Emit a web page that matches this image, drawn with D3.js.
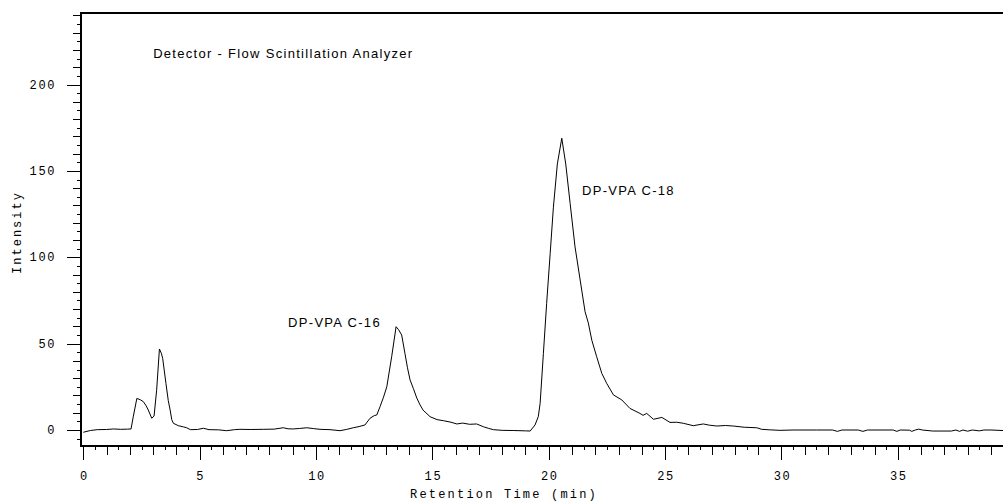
<!DOCTYPE html>
<html>
<head>
<meta charset="utf-8">
<script src="https://cdn.jsdelivr.net/npm/d3@7"></script>
<style>
  body { margin: 0; background: #fff; }
  svg { display: block; }
</style>
</head>
<body>
<div id="chart"></div>
<script>
// Chromatogram trace (retention time in min, intensity)
const retentionTime = [
    0.0, 0.3, 0.6, 1.0, 1.3, 1.6, 1.9, 2.05, 2.15, 2.3, 2.45, 2.58, 2.7, 2.79, 2.94,
    3.04, 3.15, 3.27, 3.35, 3.41, 3.55, 3.65, 3.73, 3.8, 3.87, 4.08, 4.3, 4.44, 4.6, 4.9,
    5.16, 5.4, 5.8, 6.16, 6.5, 6.73, 7.2, 7.73, 8.2, 8.59, 8.8, 9.02, 9.3, 9.6, 9.9,
    10.17, 10.6, 11.03, 11.3, 11.6, 11.85, 12.1, 12.32, 12.5, 12.61, 12.75, 12.9, 13.04, 13.25, 13.44,
    13.55, 13.68, 13.82, 13.93, 14.04, 14.18, 14.33, 14.47, 14.6, 14.9, 15.2, 15.47, 15.8, 16.05, 16.3,
    16.6, 16.9, 17.19, 17.4, 17.62, 18.0, 18.5, 19.0, 19.2, 19.41, 19.55, 19.63, 19.77, 19.91, 20.06,
    20.2, 20.37, 20.56, 20.73, 20.92, 21.13, 21.35, 21.56, 21.7, 21.85, 22.06, 22.28, 22.49, 22.78, 23.14,
    23.49, 23.92, 24.05, 24.21, 24.5, 24.86, 25.21, 25.5, 25.78, 26.21, 26.64, 26.9, 27.22, 27.6, 27.93,
    28.4, 28.94, 29.15, 29.5, 29.94, 30.5, 31.5, 32.2, 32.4, 32.6, 33.3, 33.5, 33.7, 34.8, 34.96,
    35.1, 35.5, 35.6, 35.75, 35.9, 36.05, 36.5, 37.3, 37.5, 37.65, 37.8, 38.0, 38.2, 38.5, 38.7,
    39.0, 39.52
];
const intensity = [
    -1.3, -0.3, 0.2, 0.3, 0.6, 0.4, 0.5, 0.6, 8, 18.3, 17.5, 16.4, 14, 11.6, 6.8,
    8.1, 23, 46.9, 44.5, 41.5, 27, 17, 11.6, 6, 3.9, 2.5, 1.8, 1.3, 0.2, 0.3,
    1.0, 0.2, 0.1, -0.4, 0.2, 0.4, 0.3, 0.4, 0.5, 1.3, 0.7, 0.6, 0.9, 1.3, 0.8,
    0.4, 0.2, -0.4, 0.3, 1.3, 2, 2.9, 6.8, 8.3, 8.7, 13.5, 19, 25, 42.4, 59.8,
    58, 55, 44.4, 36, 29, 24.1, 18.5, 14.5, 11.5, 7.7, 6.0, 5.4, 4.5, 3.5, 4.0,
    3.3, 3.5, 1.9, 1.0, 0.2, -0.2, -0.3, -0.5, -0.6, 2.9, 7.7, 15.4, 44.4, 73.3, 102,
    129, 154, 168.9, 154, 131, 106, 86.8, 68.5, 62, 52, 42.4, 32.8, 27, 20.3, 17.4,
    12.5, 9.6, 8.5, 9.6, 6.2, 7.3, 4.4, 4.5, 3.9, 2.5, 3.5, 2.8, 2.3, 2.6, 2.3,
    1.6, 1.3, 0.4, 0.1, -0.2, 0, 0, 0, -0.8, 0, 0, -0.8, 0, 0, -0.8,
    0, -0.1, -0.8, 0, 0.5, 0, -0.6, -0.6, 0, -0.8, 0, -0.7, 0, -0.5, 0,
    0, -0.3
];

const xMajorTicks = [0, 5, 10, 15, 20, 25, 30, 35];
const yMajorTicks = [0, 50, 100, 150, 200];

const annotations = [
    { text: 'Detector - Flow Scintillation Analyzer', t: 3.0, v: 215.3 },
    { text: 'DP-VPA C-16', t: 8.8, v: 59.6 },
    { text: 'DP-VPA C-18', t: 21.43, v: 136 }
];

const width = 1003;
const height = 502;
const plotLeft = 81, plotRight = 1003, plotTop = 13, plotBottom = 446;

const svg = d3.select('#chart')
    .append('svg')
    .attr('width', width)
    .attr('height', height);

const x = d3.scaleLinear()
    .domain([-0.1, 39.52])
    .range([plotLeft, plotRight]);

const y = d3.scaleLinear()
    .domain([-9.26, 241.4])
    .range([plotBottom, plotTop]);

const monoFont = '"Liberation Mono", "DejaVu Sans Mono", monospace';
const sansFont = '"Liberation Sans", Arial, sans-serif';

// X axis: major every 5, medium every 1, short every 0.5
const xTickVals = d3.range(0, 79).map(i => i * 0.5).filter(d => x(d) <= plotRight);
svg.append('g')
    .selectAll('line')
    .data(xTickVals)
    .join('line')
    .attr('x1', d => Math.round(x(d)) + 0.5)
    .attr('x2', d => Math.round(x(d)) + 0.5)
    .attr('y1', plotBottom)
    .attr('y2', d => plotBottom + (d % 5 === 0 ? 14 : (d % 1 === 0 ? 9 : 4)))
    .attr('stroke', '#000')
    .attr('stroke-width', 1);

svg.append('g')
    .selectAll('text')
    .data(xMajorTicks)
    .join('text')
    .attr('x', d => x(d) + 1)
    .attr('y', 480)
    .attr('text-anchor', 'middle')
    .attr('font-family', monoFont)
    .attr('font-size', 12)
    .attr('letter-spacing', 1.6)
    .attr('fill', '#000')
    .text(d => d);

// Y axis: major every 50, medium every 10, short every 5
const yTickVals = d3.range(-5, 245, 5).filter(d => y(d) >= plotTop + 1);
svg.append('g')
    .selectAll('line')
    .data(yTickVals)
    .join('line')
    .attr('x1', d => plotLeft - (d % 50 === 0 ? 14 : (d % 10 === 0 ? 8 : 4)))
    .attr('x2', plotLeft)
    .attr('y1', d => Math.round(y(d)) + 0.5)
    .attr('y2', d => Math.round(y(d)) + 0.5)
    .attr('stroke', '#000')
    .attr('stroke-width', 1);

svg.append('g')
    .selectAll('text')
    .data(yMajorTicks)
    .join('text')
    .attr('x', 56)
    .attr('y', d => y(d) + 4)
    .attr('text-anchor', 'end')
    .attr('font-family', monoFont)
    .attr('font-size', 12)
    .attr('letter-spacing', 1.6)
    .attr('fill', '#000')
    .text(d => d);

// Frame lines (left, bottom, top)
svg.append('line')
    .attr('x1', plotLeft).attr('x2', plotLeft)
    .attr('y1', plotTop - 1).attr('y2', plotBottom + 1)
    .attr('stroke', '#000').attr('stroke-width', 2);
svg.append('line')
    .attr('x1', plotLeft - 1).attr('x2', plotRight)
    .attr('y1', plotBottom).attr('y2', plotBottom)
    .attr('stroke', '#000').attr('stroke-width', 2);
svg.append('line')
    .attr('x1', plotLeft - 1).attr('x2', plotRight)
    .attr('y1', plotTop).attr('y2', plotTop)
    .attr('stroke', '#000').attr('stroke-width', 2);

// Axis titles
svg.append('text')
    .attr('x', 410)
    .attr('y', 498)
    .attr('font-family', monoFont)
    .attr('font-size', 12)
    .attr('letter-spacing', 2.2)
    .attr('fill', '#000')
    .text('Retention Time (min)');

svg.append('text')
    .attr('transform', 'translate(21,' + ((plotTop + plotBottom) / 2 + 3) + ') rotate(-90)')
    .attr('text-anchor', 'middle')
    .attr('font-family', monoFont)
    .attr('font-size', 12)
    .attr('letter-spacing', 2.0)
    .attr('fill', '#000')
    .text('Intensity');

// Trace
const points = retentionTime.map((t, i) => ({ t: t, v: intensity[i] }));
const line = d3.line()
    .x(d => x(d.t))
    .y(d => y(d.v));

svg.append('path')
    .datum(points)
    .attr('d', line)
    .attr('fill', 'none')
    .attr('stroke', '#000')
    .attr('stroke-width', 1)
    .attr('stroke-linejoin', 'round');

// Annotations
svg.append('g')
    .selectAll('text')
    .data(annotations)
    .join('text')
    .attr('x', d => x(d.t))
    .attr('y', d => y(d.v))
    .attr('font-family', sansFont)
    .attr('font-size', 13)
    .attr('letter-spacing', 1.3)
    .attr('fill', '#000')
    .text(d => d.text);
</script>
</body>
</html>
